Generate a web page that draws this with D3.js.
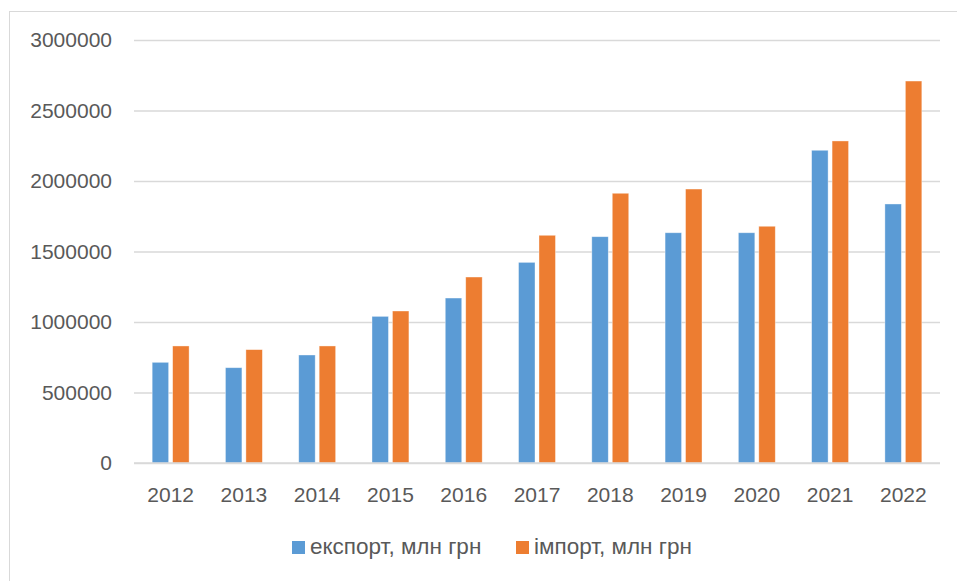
<!DOCTYPE html>
<html lang="uk">
<head>
  <meta charset="UTF-8">
  <title>Експорт та імпорт, млн грн</title>
  <style>
    body {
      margin: 0;
      padding: 0;
      background-color: #ffffff;
      font-family: "Liberation Sans", Arial, sans-serif;
    }
    .tick text, .legend text {
      fill: #595959;
    }
  </style>
  <script src="https://d3js.org/d3.v7.min.js"></script>
</head>
<body>
  <div id="chart"></div>
  <script>
    const years = ["2012", "2013", "2014", "2015", "2016", "2017", "2018", "2019", "2020", "2021", "2022"];
    const seriesNames = ["експорт, млн грн", "імпорт, млн грн"];
    const exportValues = [714000, 676000, 766000, 1040000, 1170000, 1423000, 1605000, 1633000, 1633000, 2218000, 1837000];
    const importValues = [830000, 804000, 830000, 1078000, 1319000, 1615000, 1913000, 1943000, 1679000, 2284000, 2709000];
    const yTicks = [0, 500000, 1000000, 1500000, 2000000, 2500000, 3000000];
    const colors = ["#5b9bd5", "#ed7d31"];

    const width = 957;
    const height = 581;
    const plot = { left: 134, right: 940, top: 40, bottom: 463 };

    const svg = d3.select("#chart")
      .append("svg")
      .attr("width", width)
      .attr("height", height);

    // chart frame (runs off the right and bottom edge in the original)
    svg.append("rect")
      .attr("x", 9.5)
      .attr("y", 11.5)
      .attr("width", 960)
      .attr("height", 600)
      .attr("fill", "none")
      .attr("stroke", "#d9d9d9")
      .attr("stroke-width", 1);

    const x0 = d3.scaleBand()
      .domain(years)
      .range([plot.left, plot.right])
      .paddingInner(0.496)
      .paddingOuter(0.248);

    const x1 = d3.scaleBand()
      .domain(seriesNames)
      .range([0, x0.bandwidth()])
      .paddingInner(0.195);

    const y = d3.scaleLinear()
      .domain([0, 3000000])
      .range([plot.bottom, plot.top]);

    // gridlines + y labels
    const yAxis = svg.append("g")
      .attr("transform", `translate(${plot.left},0)`)
      .call(d3.axisLeft(y)
        .tickValues(yTicks)
        .tickSize(-(plot.right - plot.left))
        .tickPadding(22)
        .tickFormat(d3.format("d")));
    yAxis.select(".domain").remove();
    yAxis.selectAll(".tick line")
      .attr("stroke", "#d9d9d9")
      .attr("stroke-width", 1.5);
    yAxis.selectAll(".tick text")
      .attr("font-size", 21)
      .attr("font-family", "Liberation Sans, Arial, sans-serif");

    const table = years.map((yr, i) => ({
      year: yr,
      values: [exportValues[i], importValues[i]]
    }));

    const groups = svg.append("g")
      .selectAll("g")
      .data(table)
      .join("g")
      .attr("transform", d => `translate(${x0(d.year)},0)`);

    groups.selectAll("rect")
      .data(d => d.values.map((v, k) => ({ key: seriesNames[k], value: v, k: k })))
      .join("rect")
      .attr("x", d => x1(d.key))
      .attr("y", d => y(d.value))
      .attr("width", x1.bandwidth())
      .attr("height", d => y(0) - y(d.value))
      .attr("fill", d => colors[d.k])
      .attr("stroke", "#ffffff")
      .attr("stroke-opacity", 0.5)
      .attr("stroke-width", 0.75);

    // baseline drawn over bars
    svg.append("line")
      .attr("x1", plot.left)
      .attr("x2", plot.right)
      .attr("y1", y(0))
      .attr("y2", y(0))
      .attr("stroke", "#d9d9d9")
      .attr("stroke-width", 1.5);

    // x axis labels
    const xAxis = svg.append("g")
      .attr("transform", `translate(0,${plot.bottom})`)
      .call(d3.axisBottom(x0).tickSize(0).tickPadding(24));
    xAxis.select(".domain").remove();
    xAxis.selectAll(".tick text")
      .attr("font-size", 21)
      .attr("font-family", "Liberation Sans, Arial, sans-serif");

    // legend
    const legend = svg.append("g").attr("class", "legend");
    const legendX = [292, 516];
    seriesNames.forEach((name, i) => {
      legend.append("rect")
        .attr("x", legendX[i])
        .attr("y", 541)
        .attr("width", 13)
        .attr("height", 13)
        .attr("fill", colors[i]);
      legend.append("text")
        .attr("x", legendX[i] + 18)
        .attr("y", 554)
        .attr("font-size", 22.5)
        .text(name);
    });
  </script>
</body>
</html>
